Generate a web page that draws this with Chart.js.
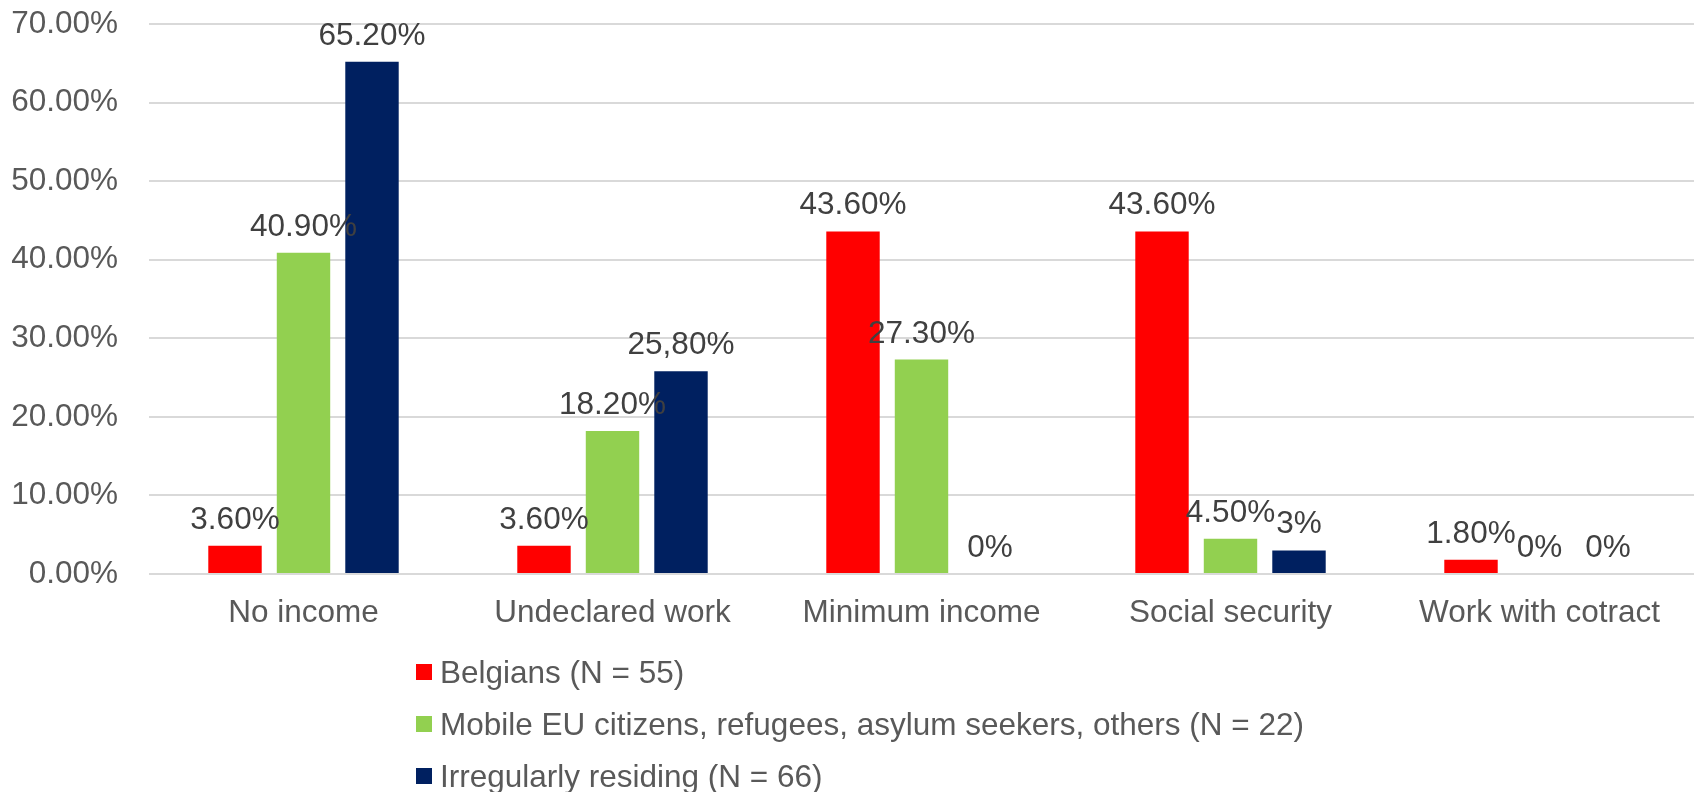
<!DOCTYPE html>
<html>
<head>
<meta charset="utf-8">
<title>Income sources</title>
<script src="https://cdn.jsdelivr.net/npm/chart.js@4.4.1/dist/chart.umd.min.js"></script>
<style>
    html, body {
        margin: 0;
        padding: 0;
        background: #ffffff;
    }
    #wrap {
        position: relative;
        width: 1696px;
        height: 792px;
    }
    #legend {
        position: absolute;
        left: 416px;
        top: 646px;
        margin: 0;
        padding: 0;
        list-style: none;
        font-family: "Liberation Sans", Arial, sans-serif;
        font-size: 31.5px;
        color: #595959;
    }
    #legend li {
        display: flex;
        align-items: center;
        height: 52px;
        white-space: nowrap;
    }
    #legend .swatch {
        display: inline-block;
        width: 16px;
        height: 16px;
        margin-right: 8px;
    }
</style>
</head>
<body>
<div id="wrap">
    <canvas id="incomeChart"></canvas>
    <ul id="legend"></ul>
</div>
<script>
const categories = ['No income', 'Undeclared work', 'Minimum income', 'Social security', 'Work with cotract'];

const belgians = [3.6, 3.6, 43.6, 43.6, 1.8];
const mobileEu = [40.9, 18.2, 27.3, 4.5, 0];
const irregular = [65.2, 25.8, 0, 3, 0];

// label text as it is formatted per cell in the source table
const belgiansLabels = ['3.60%', '3.60%', '43.60%', '43.60%', '1.80%'];
const mobileEuLabels = ['40.90%', '18.20%', '27.30%', '4.50%', '0%'];
const irregularLabels = ['65.20%', '25,80%', '0%', '3%', '0%'];

const yTicks = [0, 10, 20, 30, 40, 50, 60, 70];

const FONT = '"Liberation Sans", Arial, sans-serif';
const FONT_SIZE = 31.5;

// draws the value text above each bar
const barLabels = {
    id: 'barLabels',
    afterDatasetsDraw(chart) {
        const ctx = chart.ctx;
        ctx.save();
        ctx.font = FONT_SIZE + 'px ' + FONT;
        ctx.fillStyle = '#404040';
        ctx.textAlign = 'center';
        ctx.textBaseline = 'alphabetic';
        chart.data.datasets.forEach((ds, i) => {
            const meta = chart.getDatasetMeta(i);
            meta.data.forEach((bar, j) => {
                ctx.fillText(ds.valueLabels[j], bar.x, bar.y - 17);
            });
        });
        ctx.restore();
    }
};

// builds the legend list from the datasets
const htmlLegend = {
    id: 'htmlLegend',
    afterUpdate(chart) {
        const list = document.getElementById('legend');
        list.innerHTML = '';
        chart.data.datasets.forEach(ds => {
            const li = document.createElement('li');
            const box = document.createElement('span');
            box.className = 'swatch';
            box.style.background = ds.backgroundColor;
            li.appendChild(box);
            li.appendChild(document.createTextNode(ds.label));
            list.appendChild(li);
        });
    }
};

const ctx = document.getElementById('incomeChart').getContext('2d');
new Chart(ctx, {
    type: 'bar',
    data: {
        labels: categories,
        datasets: [
            {
                label: 'Belgians (N = 55)',
                data: belgians,
                valueLabels: belgiansLabels,
                backgroundColor: '#FF0000'
            },
            {
                label: 'Mobile EU citizens, refugees, asylum seekers, others (N = 22)',
                data: mobileEu,
                valueLabels: mobileEuLabels,
                backgroundColor: '#92D050'
            },
            {
                label: 'Irregularly residing (N = 66)',
                data: irregular,
                valueLabels: irregularLabels,
                backgroundColor: '#002060'
            }
        ]
    },
    options: {
        responsive: true,
        maintainAspectRatio: false,
        animation: false,
        categoryPercentage: 0.665,
        barPercentage: 0.78,
        layout: {
            padding: { top: 24, right: 2, bottom: 148, left: 0 }
        },
        plugins: {
            legend: { display: false },
            tooltip: { enabled: false }
        },
        scales: {
            x: {
                grid: { display: false, drawTicks: false },
                border: { display: false },
                ticks: {
                    padding: 20,
                    color: '#595959',
                    font: { family: FONT, size: FONT_SIZE }
                },
                afterFit(scale) {
                    scale.height = 70;
                }
            },
            y: {
                min: 0,
                max: 70,
                afterBuildTicks(scale) {
                    scale.ticks = yTicks.map(v => ({ value: v }));
                },
                grid: {
                    color: '#D9D9D9',
                    lineWidth: 2,
                    drawTicks: false
                },
                border: { display: false },
                ticks: {
                    padding: 31,
                    color: '#595959',
                    font: { family: FONT, size: FONT_SIZE },
                    callback: v => v.toFixed(2) + '%'
                },
                afterFit(scale) {
                    // fixed axis width; the tick padding should not push the plot down
                    scale.width = 149;
                    scale.paddingTop = 20;
                    scale.paddingBottom = 0;
                }
            }
        }
    },
    plugins: [barLabels, htmlLegend]
});
</script>
</body>
</html>
